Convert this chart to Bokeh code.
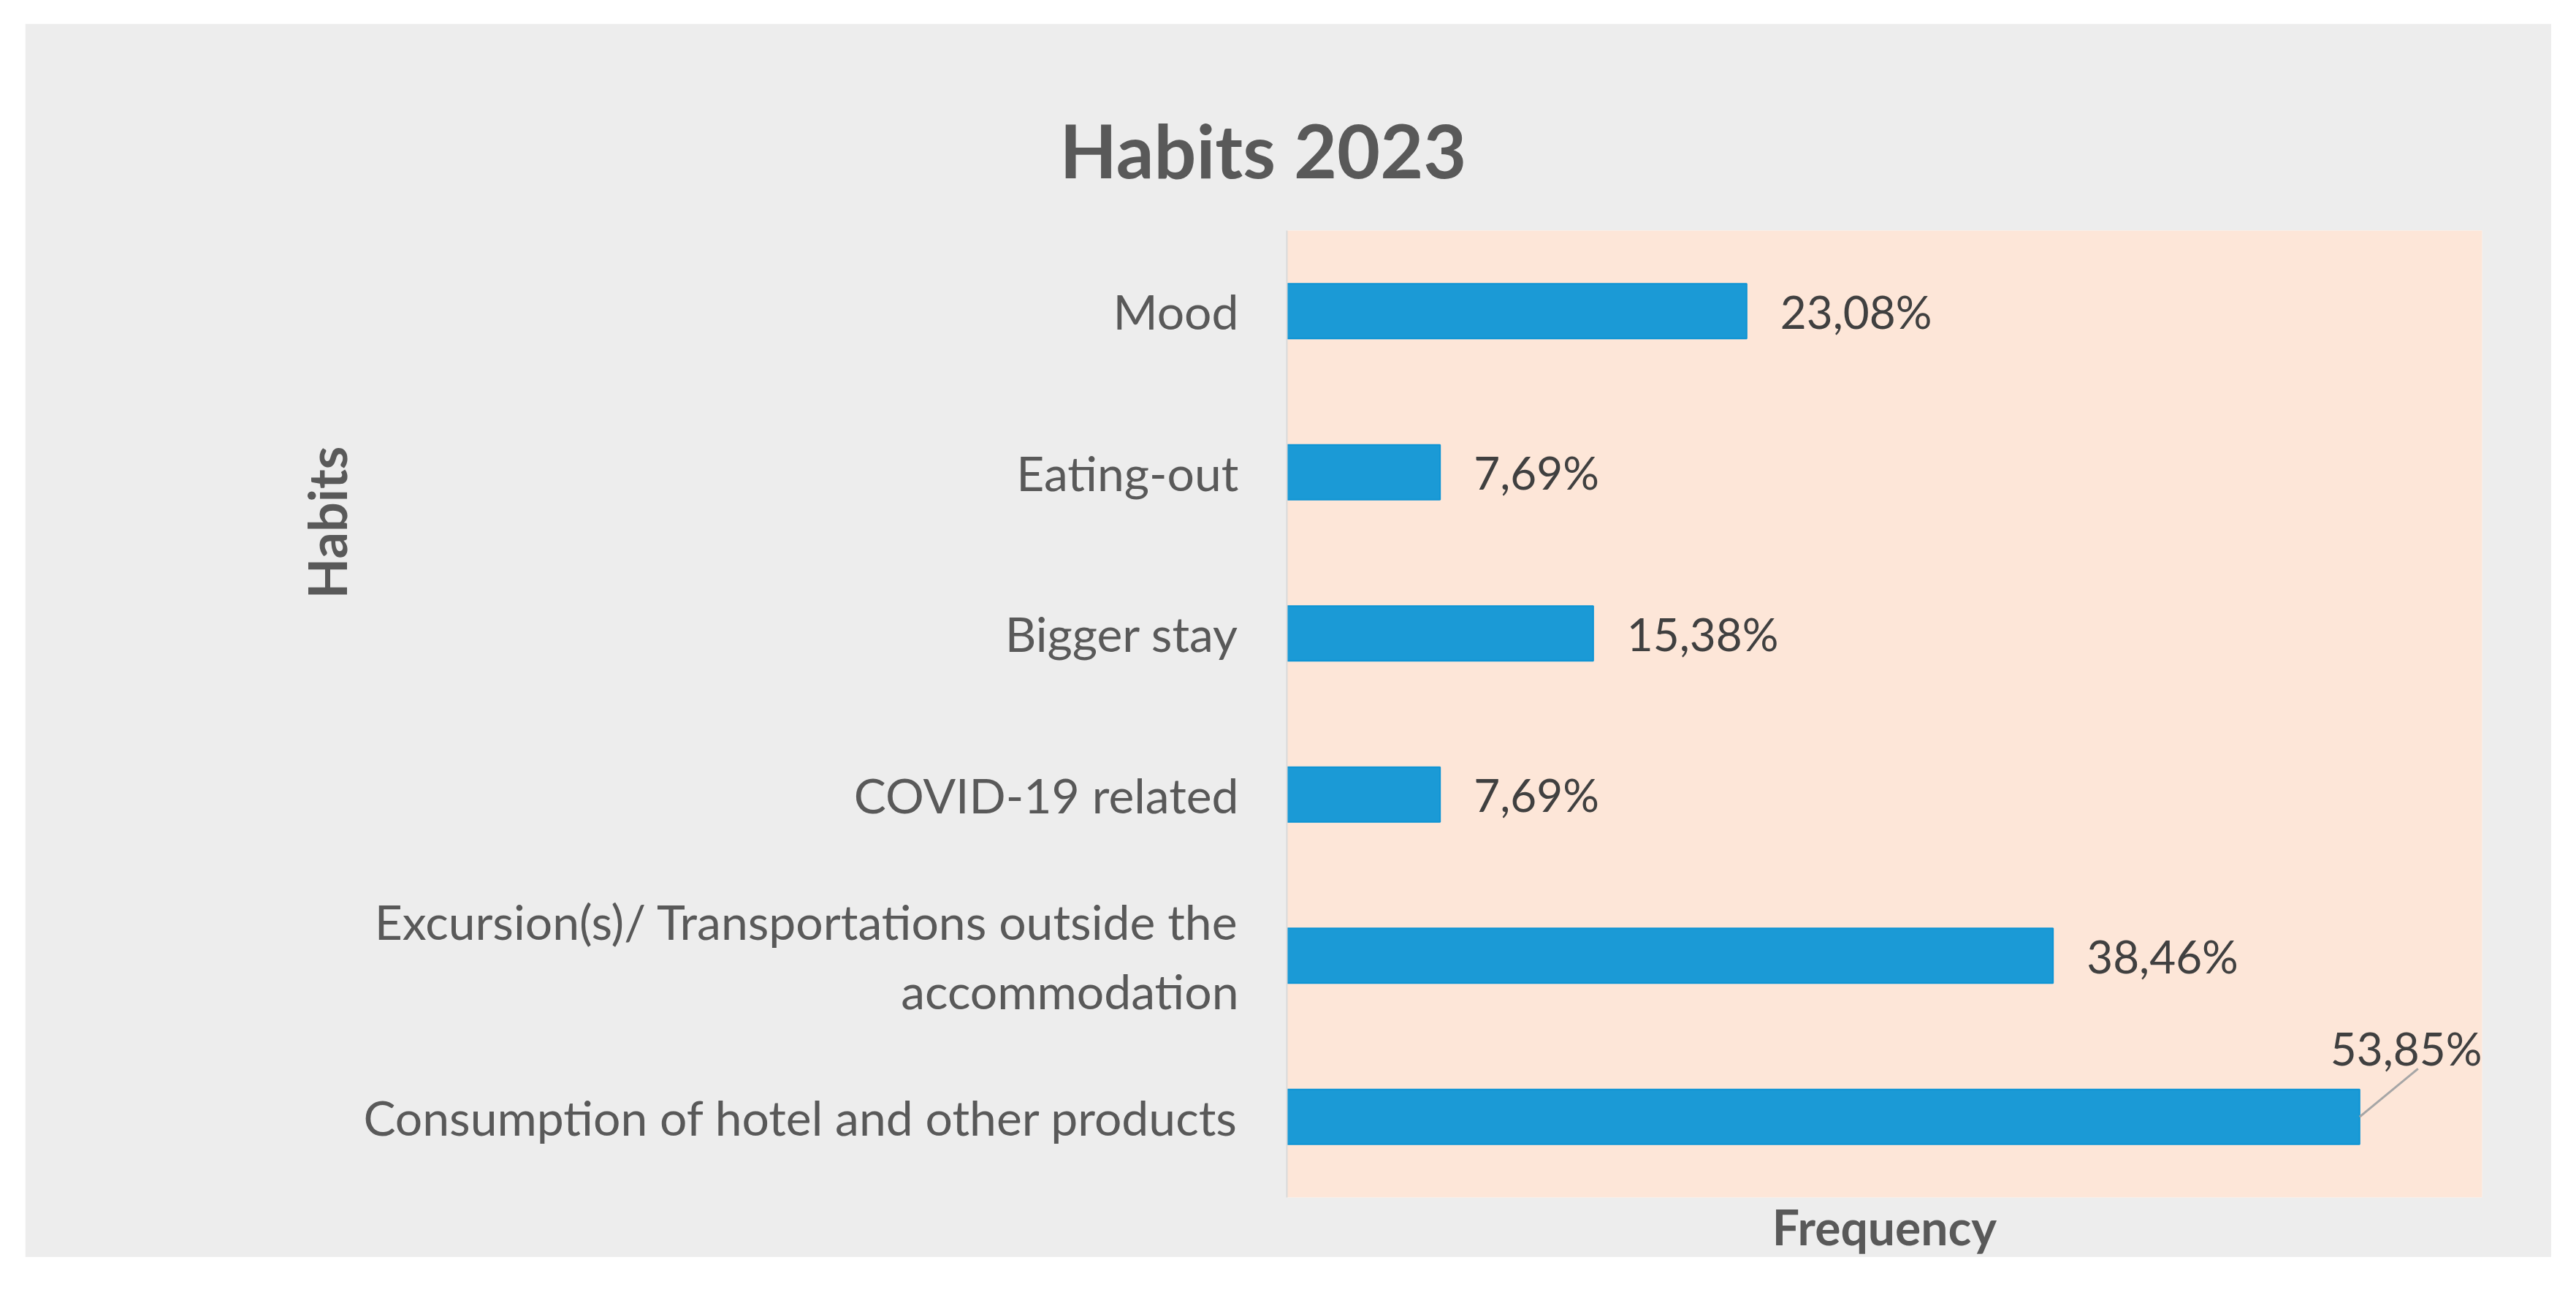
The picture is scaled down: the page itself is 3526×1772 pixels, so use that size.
from bokeh.plotting import figure
from bokeh.models import ColumnDataSource, FixedTicker, Label, Title, Range1d, Spacer
from bokeh.layouts import column, row
from bokeh.embed import file_html
from bokeh.resources import INLINE

# ---- data (bottom to top, as drawn) ----
categories = [
    "Consumption of hotel and other products",
    "Excursion(s)/ Transportations outside the\naccommodation",
    "COVID-19 related",
    "Bigger stay",
    "Eating-out",
    "Mood",
]
values = [53.85, 38.46, 7.69, 15.38, 7.69, 23.08]
value_labels = ["53,85%", "38,46%", "7,69%", "15,38%", "7,69%", "23,08%"]
x_max = 60
chart_title = "Habits 2023"
x_title = "Frequency"
y_title = "Habits"

FONT = "Lato"
GRAY_BG = "#EDEDED"
PEACH = "#FDE6D8"
BAR = "#1B9AD6"
TEXT = "#595959"
VAL_TEXT = "#404040"

positions = list(range(len(categories)))

W, H = 3458, 1688
FL, FR, FT, FB = 1727, 95, 283, 80
frame_w = W - FL - FR
frame_h = H - FT - FB

p = figure(width=W, height=H,
           x_range=Range1d(0, x_max),
           y_range=Range1d(-0.5, len(categories) - 0.5),
           output_backend="svg", toolbar_location=None,
           min_border_left=FL, min_border_right=FR,
           min_border_top=FT, min_border_bottom=FB)
p.border_fill_color = GRAY_BG
p.background_fill_color = PEACH
p.outline_line_color = None
p.xgrid.visible = False
p.ygrid.visible = False

src = ColumnDataSource(dict(y=positions, value=values, label=value_labels))
p.hbar(y="y", left=0, right="value", height=0.34, source=src,
       fill_color=BAR, line_color="#0E94D4", line_width=2)

# y axis
ya = p.yaxis[0]
ya.ticker = FixedTicker(ticks=positions)
ya.major_label_overrides = {i: c for i, c in zip(positions, categories)}
ya.major_tick_out = 0
ya.major_tick_in = 0
ya.minor_tick_out = 0
ya.minor_tick_in = 0
ya.axis_line_color = "#D9D9D9"
ya.axis_line_width = 2
ya.major_label_standoff = 66
ya.major_label_text_font = FONT
ya.major_label_text_font_size = "66px"
ya.major_label_text_color = TEXT

# x axis
xa = p.xaxis[0]
xa.ticker = FixedTicker(ticks=[])
xa.axis_line_color = None
xa.major_tick_out = 0
xa.major_tick_in = 0
xa.minor_tick_out = 0
xa.minor_tick_in = 0
xa.axis_label = x_title
xa.axis_label_standoff = 0
xa.axis_label_text_font = FONT
xa.axis_label_text_font_size = "66px"
xa.axis_label_text_font_style = "bold"
xa.axis_label_text_color = TEXT

# title
p.title.text = chart_title
p.title.text_font = FONT
p.title.text_font_size = "102px"
p.title.text_font_style = "bold"
p.title.text_color = TEXT
p.title.align = "left"
p.title.offset = -311
p.title.standoff = 100

# left axis title
p.add_layout(Title(text=y_title, align="right", offset=295,
                   text_font=FONT, text_font_size="72px", text_font_style="bold",
                   text_color=TEXT), "left")

# value labels
lead = values.index(max(values))
for i in positions:
    if i == lead:
        continue
    p.add_layout(Label(x=values[i], y=positions[i], text=value_labels[i],
                       x_offset=46, text_align="left", text_baseline="middle",
                       text_font=FONT, text_font_size="62px", text_color=VAL_TEXT))

p.add_layout(Label(x=values[lead], y=positions[lead], text=value_labels[lead],
                   x_offset=-40, y_offset=94, text_align="left",
                   text_baseline="alphabetic",
                   text_font=FONT, text_font_size="62px", text_color=VAL_TEXT))

# leader line for the displaced label
dx = 80 * x_max / frame_w
dy = 66 * len(categories) / frame_h
p.segment(x0=[values[lead]], y0=[positions[lead]],
          x1=[values[lead] + dx], y1=[positions[lead] + dy],
          line_color="#A6A6A6", line_width=3)

layout = column(Spacer(height=32), row(Spacer(width=34), p))
open("out.html", "w").write(file_html(layout, INLINE))
